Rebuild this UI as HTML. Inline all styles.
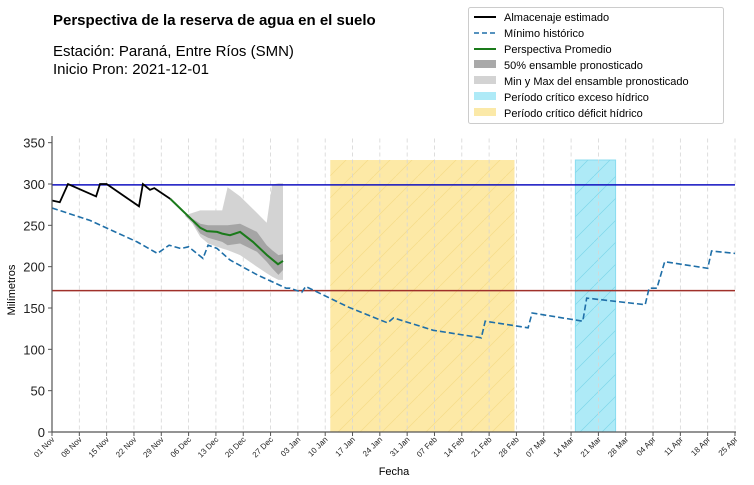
<!DOCTYPE html>
<html><head><meta charset="utf-8">
<style>
body{margin:0;background:#fff;font-family:"Liberation Sans",sans-serif;}
svg{display:block}
</style></head>
<body>
<svg id="chart" width="754" height="485" xmlns="http://www.w3.org/2000/svg">
<defs>
<pattern id="hatchY" patternUnits="userSpaceOnUse" width="22" height="22">
<path d="M0,22 L22,0" stroke="#f5dc88" stroke-width="0.7"/>
</pattern>
<pattern id="hatchC" patternUnits="userSpaceOnUse" width="22" height="22">
<path d="M0,22 L22,0" stroke="#7fd6ea" stroke-width="0.7"/>
</pattern>
</defs>
<text x="53" y="25" font-size="15" font-weight="bold" fill="#000">Perspectiva de la reserva de agua en el suelo</text>
<text x="53" y="56" font-size="15" fill="#000">Estación: Paraná, Entre Ríos (SMN)</text>
<text x="53" y="74" font-size="15" fill="#000">Inicio Pron: 2021-12-01</text>
<g id="plot"></g>
<g id="legend">
<rect x="468.5" y="7.5" width="255" height="116" fill="#fff" stroke="#ccc" rx="2"/>
<line x1="474" y1="17" x2="496" y2="17" stroke="#000" stroke-width="2"/>
<text x="504" y="21" font-size="11">Almacenaje estimado</text>
<line x1="474" y1="33" x2="496" y2="33" stroke="#1f6fa8" stroke-width="1.6" stroke-dasharray="5,3"/>
<text x="504" y="37" font-size="11">Mínimo histórico</text>
<line x1="474" y1="49" x2="496" y2="49" stroke="#1a7a1a" stroke-width="2"/>
<text x="504" y="53" font-size="11">Perspectiva Promedio</text>
<rect x="474" y="60" width="22" height="8" fill="#a9a9a9"/>
<text x="504" y="69" font-size="11">50% ensamble pronosticado</text>
<rect x="474" y="76" width="22" height="8" fill="#d3d3d3"/>
<text x="504" y="85" font-size="11">Min y Max del ensamble pronosticado</text>
<rect x="474" y="92" width="22" height="8" fill="#aeeaf7"/>
<text x="504" y="101" font-size="11">Período crítico exceso hídrico</text>
<rect x="474" y="108" width="22" height="8" fill="#fbe9a8"/>
<text x="504" y="117" font-size="11">Período crítico déficit hídrico</text>
</g>
</svg>
<script>
const stored_days=[0,2,4.1,11.3,12.3,14,22.3,23.3,25.1,26.2,30.3];
const stored_vals=[280,278,300,285,300,300,273,300,293,295,282];
const mean_days=[30.3,38,39.7,42.3,43.6,45.6,48.2,51.5,55.1,57.9,59.2];
const mean_vals=[282,247,243,242,240,238,242,230,214,203,207];
const band_days=[34,36,38,40,43.6,45,48.2,52.5,55,56.4,58,59.2];
const q25_vals=[262,254,240,235,230,226,228,218,206,198,190,196];
const q75_vals=[262,258,252,250,250,250,252,242,226,220,214,215];
const min_vals=[262,252,236,228,222,220,214,200,192,188,184,184];
const max_vals=[262,265,268,268,268,296,285,265,253,299,301,301];
const min_days=[0,9.7,21.8,27,30,33,35,38.7,40,42.3,45.6,52.6,60,61,64,65,76,86,87.5,97.7,110,111,122,123,136,137,152,153,155,157,168,169,175];
const min_vals_hist=[271,256,230,216,226,222,224,210,226,222,208,190,174,174,169,176,151,132,138,123,114,134,126,144,134,162,154,174,174,206,198,219,216];
const deficit_period=[71.3,118.5];
const excess_period=[134.1,144.4];
const upper_threshold=299;
const lower_threshold=171;
const y_ticks=[0,50,100,150,200,250,300,350];
const x_tick_labels=["01 Nov","08 Nov","15 Nov","22 Nov","29 Nov","06 Dec","13 Dec","20 Dec","27 Dec","03 Jan","10 Jan","17 Jan","24 Jan","31 Jan","07 Feb","14 Feb","21 Feb","28 Feb","07 Mar","14 Mar","21 Mar","28 Mar","04 Apr","11 Apr","18 Apr","25 Apr"];

const X0=52,X1=735,Y0=432;
const xs=d=>X0+d*(X1-X0)/175;
const ys=v=>Y0-v*0.8267;
const NS="http://www.w3.org/2000/svg";
const plot=document.getElementById('plot');
function mk(tag,attrs,parent){const e=document.createElementNS(NS,tag);for(const k in attrs)e.setAttribute(k,attrs[k]);(parent||plot).appendChild(e);return e;}
const pts=(ds,vs)=>ds.map((d,i)=>xs(d).toFixed(1)+','+ys(vs[i]).toFixed(1)).join(' ');

let r=mk('rect',{x:xs(deficit_period[0]),y:ys(329),width:xs(deficit_period[1])-xs(deficit_period[0]),height:Y0-ys(329),fill:'#fde9a6'});


mk('rect',{x:xs(deficit_period[0]),y:ys(329),width:xs(deficit_period[1])-xs(deficit_period[0]),height:Y0-ys(329),fill:'url(#hatchY)'});
r=mk('rect',{x:xs(excess_period[0]),y:ys(329),width:xs(excess_period[1])-xs(excess_period[0]),height:Y0-ys(329),fill:'#aeeaf7',stroke:'#8adcef','stroke-width':1});


mk('rect',{x:xs(excess_period[0]),y:ys(329),width:xs(excess_period[1])-xs(excess_period[0]),height:Y0-ys(329),fill:'url(#hatchC)'});

x_tick_labels.forEach((t,i)=>{
  const x=xs(i*7);
  if(i>0) mk('line',{x1:x,y1:ys(355),x2:x,y2:Y0,stroke:'#d5d5d5','stroke-dasharray':'4,3','stroke-width':0.8});
  mk('line',{x1:x,y1:Y0,x2:x,y2:Y0+4,stroke:'#555'});
  const tx=mk('text',{x:x+3,y:Y0+8,'font-size':8,'text-anchor':'end',transform:`rotate(-45 ${x+3} ${Y0+8})`,fill:'#222'});
  tx.textContent=t;
  
  
});
y_ticks.forEach(v=>{
  const y=ys(v);
  mk('line',{x1:X0-4,y1:y,x2:X0,y2:y,stroke:'#555'});
  const tx=mk('text',{x:X0-7,y:y+5,'font-size':13,'text-anchor':'end',fill:'#222'});
  tx.textContent=v;
  
  
});

let p=mk('polygon',{points:pts(band_days,max_vals)+' '+pts(band_days.slice().reverse(),min_vals.slice().reverse()),fill:'#d3d3d3'});


p=mk('polygon',{points:pts(band_days,q75_vals)+' '+pts(band_days.slice().reverse(),q25_vals.slice().reverse()),fill:'#a5a5a5'});



let l=mk('line',{x1:X0,y1:ys(upper_threshold),x2:X1,y2:ys(upper_threshold),stroke:'#1010c0','stroke-width':1.5});


l=mk('line',{x1:X0,y1:ys(lower_threshold),x2:X1,y2:ys(lower_threshold),stroke:'#a0302a','stroke-width':1.5});



l=mk('polyline',{points:pts(min_days,min_vals_hist),fill:'none',stroke:'#1f6fa8','stroke-width':1.6,'stroke-dasharray':'6,3'});


l=mk('polyline',{points:pts(stored_days,stored_vals),fill:'none',stroke:'#000','stroke-width':1.8});


l=mk('polyline',{points:pts(mean_days,mean_vals),fill:'none',stroke:'#1a7a1a','stroke-width':2});



mk('line',{x1:X0,y1:ys(358),x2:X0,y2:Y0,stroke:'#555','stroke-width':1.2});
mk('line',{x1:X0,y1:Y0,x2:X1+1,y2:Y0,stroke:'#555','stroke-width':1.2});
let t=mk('text',{x:15,y:290,'font-size':11,'text-anchor':'middle',transform:'rotate(-90 15 290)'});
t.textContent='Milímetros';


t=mk('text',{x:394,y:475,'font-size':11,'text-anchor':'middle'});
t.textContent='Fecha';


</script>
</body></html>
